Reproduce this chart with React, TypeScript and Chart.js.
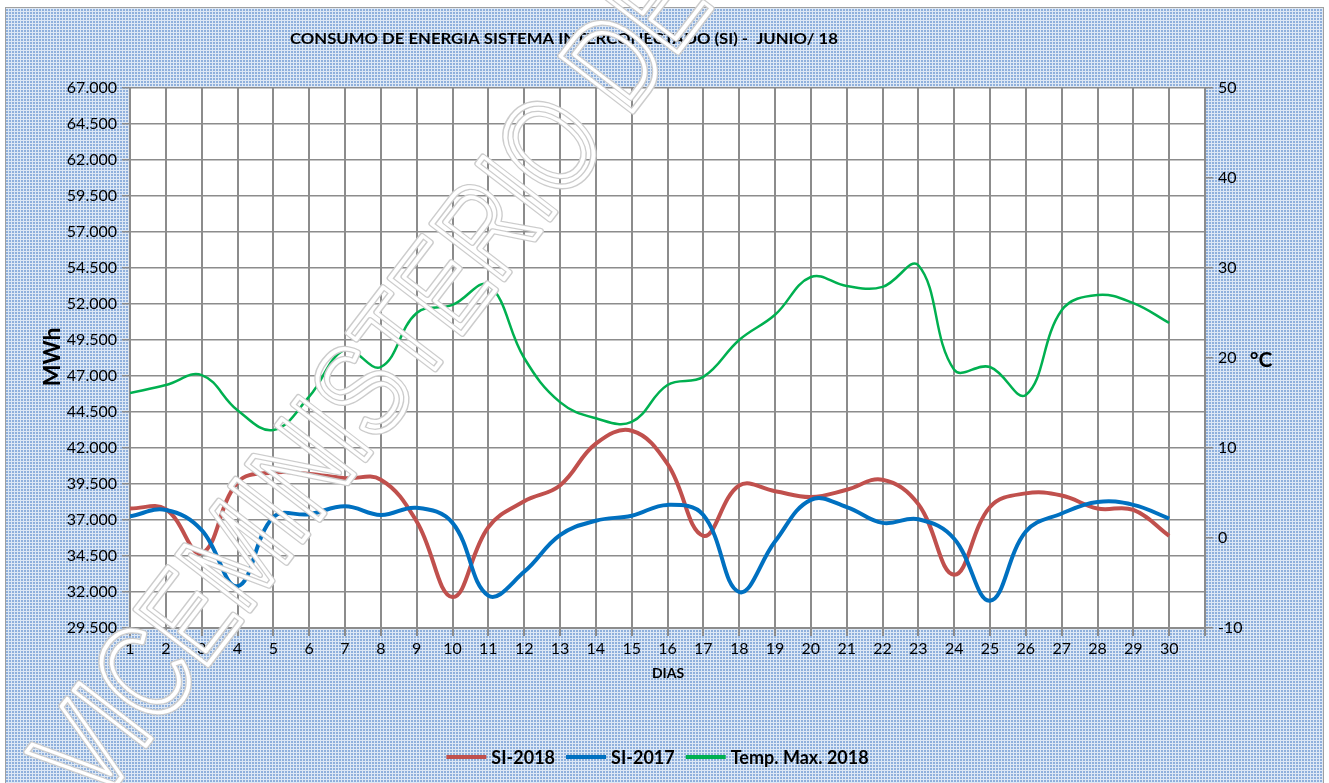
import React, { useEffect, useRef } from "react";
import { Chart, registerables } from "chart.js";

Chart.register(...registerables);

const DAYS = [1, 2, 3, 4, 5, 6, 7, 8, 9, 10, 11, 12, 13, 14, 15, 16, 17, 18, 19, 20, 21, 22, 23, 24, 25, 26, 27, 28, 29, 30];
const SI_2018 = [37800, 37750, 34700, 39600, 40300, 40200, 39900, 39800, 36900, 31650, 36500, 38300, 39400, 42300, 43200, 40900, 35900, 39400, 39000, 38600, 39100, 39800, 38100, 33200, 37900, 38850, 38700, 37800, 37700, 35900];
const SI_2017 = [37250, 37700, 36300, 32400, 37200, 37400, 37950, 37350, 37850, 36800, 31750, 33400, 35950, 36950, 37300, 38050, 37350, 32000, 35500, 38400, 37900, 36800, 37050, 35700, 31400, 36200, 37450, 38250, 38050, 37100];
const TEMP_MAX_2018 = [16.1, 17.0, 18.1, 14.2, 12.0, 15.7, 20.9, 19.0, 25.0, 25.9, 28.1, 20.0, 15.1, 13.3, 12.9, 17.0, 17.9, 22.0, 24.8, 29.0, 28.0, 27.9, 30.3, 18.7, 19.0, 15.9, 25.3, 27.0, 26.1, 23.9];
const SERIES_LABELS = ["SI-2018", "SI-2017", "Temp. Max. 2018"];
const TITLE = "CONSUMO DE ENERGIA SISTEMA INTERCONECTADO (SI) -  JUNIO/ 18";
const Y_LEFT_TITLE = "MWh";
const Y_RIGHT_TITLE = "°C";
const X_TITLE = "DIAS";
const WATERMARK = "VICEMINISTERIO DE ELECTRICIDAD";

const FONT = "Lato, 'Open Sans', sans-serif";
const GRID = "#8c8c8c";

function makePattern(ctx: CanvasRenderingContext2D) {
  const c = document.createElement("canvas");
  c.width = 3;
  c.height = 3;
  const t = c.getContext("2d")!;
  t.fillStyle = "#dde8f5";
  t.fillRect(0, 0, 3, 3);
  t.fillStyle = "#8fb0dc";
  t.fillRect(0, 0, 2, 2);
  return ctx.createPattern(c, "repeat")!;
}

const backgroundPlugin = {
  id: "bgPattern",
  beforeDraw(chart: any) {
    const ctx = chart.ctx as CanvasRenderingContext2D;
    const { width, height, chartArea } = chart;
    ctx.save();
    ctx.fillStyle = "#ffffff";
    ctx.fillRect(0, 0, width, height);
    ctx.fillStyle = makePattern(ctx);
    ctx.fillRect(5, 7, width - 10, height - 7);
    ctx.strokeStyle = "#a0a0a0";
    ctx.lineWidth = 1;
    ctx.strokeRect(5.5, 7.5, width - 11, height);
    ctx.fillStyle = "#ffffff";
    ctx.fillRect(chartArea.left, chartArea.top, chartArea.right - chartArea.left, chartArea.bottom - chartArea.top);
    ctx.restore();
  },
};

const labelsPlugin = {
  id: "customLabels",
  afterDraw(chart: any) {
    const ctx = chart.ctx as CanvasRenderingContext2D;
    ctx.save();
    ctx.fillStyle = "#000000";
    // Title
    ctx.font = `bold 15.5px ${FONT}`;
    ctx.textBaseline = "alphabetic";
    ctx.textAlign = "left";
    const tw = ctx.measureText(TITLE).width;
    ctx.save();
    ctx.translate(290, 44);
    ctx.scale(548 / tw, 1);
    ctx.fillText(TITLE, 0, 0);
    ctx.restore();

    // Axis titles
    ctx.font = `bold 23px ${FONT}`;
    ctx.textAlign = "center";
    ctx.textBaseline = "middle";
    ctx.save();
    ctx.translate(53, 357);
    ctx.rotate(-Math.PI / 2);
    ctx.fillText(Y_LEFT_TITLE, 0, 0);
    ctx.restore();
    ctx.font = `bold 21px ${FONT}`;
    ctx.fillText(Y_RIGHT_TITLE, 1261, 360);
    ctx.font = `bold 14px ${FONT}`;
    ctx.fillText(X_TITLE, 668, 673);

    // Legend
    const ds = chart.data.datasets;
    ctx.font = `bold 18px ${FONT}`;
    const lineW = 40;
    const gap1 = 5;
    const gap2 = 11;
    const widths = ds.map((d: any) => ctx.measureText(d.label).width);
    let total = 0;
    widths.forEach((w: number, i: number) => {
      total += lineW + gap1 + w + (i < widths.length - 1 ? gap2 : 0);
    });
    let x = 657.5 - total / 2;
    const ly = 757;
    ctx.textAlign = "left";
    ds.forEach((d: any, i: number) => {
      ctx.strokeStyle = d.borderColor;
      ctx.lineWidth = 4;
      ctx.beginPath();
      ctx.moveTo(x, ly);
      ctx.lineTo(x + lineW, ly);
      ctx.stroke();
      x += lineW + gap1;
      ctx.fillStyle = "#000000";
      ctx.fillText(d.label, x, ly + 1);
      x += widths[i] + gap2;
    });

    // Watermark
    ctx.translate(98, 808);
    ctx.rotate((-52.5 * Math.PI) / 180);
    ctx.scale(0.78, 1);
    ctx.font = `132px 'Liberation Sans', Arial, sans-serif`;
    ctx.textAlign = "left";
    ctx.textBaseline = "alphabetic";
    ctx.lineJoin = "round";
    ctx.strokeStyle = "#cccccc";
    ctx.lineWidth = 7;
    ctx.strokeText(WATERMARK, 0, 0);
    ctx.strokeStyle = "#ffffff";
    ctx.lineWidth = 4;
    ctx.strokeText(WATERMARK, 0, 0);
    ctx.restore();
  },
};

const fmt = new Intl.NumberFormat("de-DE", { minimumFractionDigits: 0, maximumFractionDigits: 0 });

export default function App() {
  const ref = useRef<HTMLCanvasElement | null>(null);

  useEffect(() => {
    document.body.style.margin = "0";
    const canvas = ref.current!;
    const chart = new Chart(canvas, {
      type: "line",
      data: {
        datasets: [
          {
            label: SERIES_LABELS[0],
            data: DAYS.map((d, i) => ({ x: d, y: SI_2018[i] })),
            borderColor: "#c0504d",
            backgroundColor: "#c0504d",
            borderWidth: 4,
            pointRadius: 0,
            tension: 0.4,
            yAxisID: "y",
            order: 3,
          },
          {
            label: SERIES_LABELS[1],
            data: DAYS.map((d, i) => ({ x: d, y: SI_2017[i] })),
            borderColor: "#0070c0",
            backgroundColor: "#0070c0",
            borderWidth: 4,
            pointRadius: 0,
            tension: 0.4,
            yAxisID: "y",
            order: 2,
          },
          {
            label: SERIES_LABELS[2],
            data: DAYS.map((d, i) => ({ x: d, y: TEMP_MAX_2018[i] })),
            borderColor: "#00b050",
            backgroundColor: "#00b050",
            borderWidth: 2.5,
            pointRadius: 0,
            tension: 0.4,
            yAxisID: "y1",
            order: 1,
          },
        ],
      },
      options: {
        responsive: false,
        animation: false,
        devicePixelRatio: 1,
        layout: { padding: { top: 88, left: 0, right: 0, bottom: 0 } },
        plugins: {
          legend: { display: false },
          title: { display: false },
          tooltip: { enabled: false },
        },
        scales: {
          x: {
            type: "linear",
            min: 1,
            max: 31,
            afterFit: (s: any) => {
              s.height = 155;
            },
            ticks: {
              stepSize: 1,
              autoSkip: false,
              maxRotation: 0,
              padding: 3,
              color: "#000000",
              font: { family: FONT, size: 16 },
              callback: (v: any) => (v === 31 ? "" : String(v)),
            },
            grid: { color: GRID, lineWidth: 2, tickLength: 8 },
            border: { color: GRID, width: 2 },
          },
          y: {
            type: "linear",
            position: "left",
            min: 29500,
            max: 67000,
            afterFit: (s: any) => {
              s.width = 130;
            },
            ticks: {
              stepSize: 2500,
              padding: 5,
              color: "#000000",
              font: { family: FONT, size: 16 },
              callback: (v: any) => fmt.format(v as number),
            },
            grid: { color: GRID, lineWidth: 1.5, tickLength: 8 },
            border: { color: GRID, width: 2 },
          },
          y1: {
            type: "linear",
            position: "right",
            min: -10,
            max: 50,
            afterFit: (s: any) => {
              s.width = 124;
            },
            ticks: {
              stepSize: 10,
              padding: 5,
              color: "#000000",
              font: { family: FONT, size: 16 },
            },
            grid: { drawOnChartArea: false, color: GRID, lineWidth: 1.5, tickLength: 8 },
            border: { color: GRID, width: 2 },
          },
        },
      },
      plugins: [backgroundPlugin, labelsPlugin],
    } as any);
    return () => chart.destroy();
  }, []);

  return (
    <div style={{ width: 1329, height: 783 }}>
      <canvas ref={ref} width={1329} height={783} style={{ display: "block", width: 1329, height: 783 }} />
    </div>
  );
}
